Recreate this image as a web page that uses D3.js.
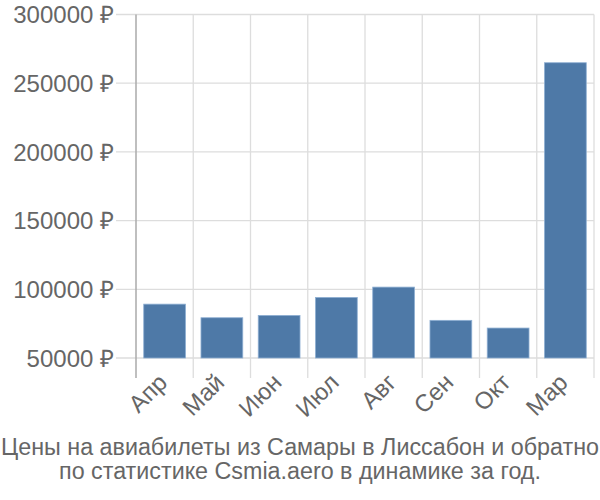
<!DOCTYPE html>
<html><head><meta charset="utf-8">
<script src="https://cdn.jsdelivr.net/npm/d3@7"></script>
<style>body{margin:0;background:#fff}svg{display:block}text{font-family:"Liberation Sans",Arial,sans-serif;fill:#666}</style>
</head><body>
<script>
const categories = ["Апр","Май","Июн","Июл","Авг","Сен","Окт","Мар"];
const values = [89200, 79300, 81000, 94100, 101600, 77400, 71800, 264900];
const yTicks = [50000, 100000, 150000, 200000, 250000, 300000];
const titleLines = ["Цены на авиабилеты из Самары в Лиссабон и обратно","по статистике Csmia.aero в динамике за год."];

const W=600,H=500, L=136, R=594, T=14.5, B=358;
const svg=d3.select("body").append("svg").attr("width",W).attr("height",H);
const x=d3.scaleBand().domain(categories).range([L,R]).paddingInner(0.27).paddingOuter(0.135);
const xg=d3.scaleBand().domain(categories).range([L,R]);
const y=d3.scaleLinear().domain([50000,300000]).range([B,T]);

// horizontal grid
svg.append("g").selectAll("line").data(yTicks).join("line")
 .attr("x1",L-20).attr("x2",R).attr("y1",d=>y(d)).attr("y2",d=>y(d))
 .attr("stroke","#ddd").attr("stroke-width",1.3);
// vertical grid
svg.append("g").selectAll("line").data(categories.slice(1).concat(["__end"])).join("line")
 .attr("x1",(d,i)=>i<categories.length-1?xg(d):R).attr("x2",(d,i)=>i<categories.length-1?xg(d):R)
 .attr("y1",T).attr("y2",B+20).attr("stroke","#ddd").attr("stroke-width",1.3);
// left axis
svg.append("line").attr("x1",L).attr("x2",L).attr("y1",T).attr("y2",B+20).attr("stroke","#aaa").attr("stroke-width",1.5);

// bars
svg.append("g").selectAll("rect").data(values).join("rect")
 .attr("x",(d,i)=>x(categories[i])).attr("width",x.bandwidth())
 .attr("y",d=>y(d)).attr("height",d=>B-y(d))
 .attr("fill","#4e79a7").attr("stroke","#8fb0d3").attr("stroke-width",0.8);

// y labels
svg.append("g").selectAll("text").data(yTicks).join("text")
 .attr("x",L-22).attr("y",d=>y(d)).attr("dy","0.36em").attr("text-anchor","end")
 .style("font-size","24px").text(d=>d+" ₽");

// x labels
svg.append("g").selectAll("text").data(categories).join("text")
 .attr("transform",d=>`translate(${xg(d)+xg.bandwidth()/2-2},${B+20}) rotate(-45)`)
 .attr("text-anchor","end").attr("dy","0.35em")
 .style("font-size","24px").text(d=>d);

// title
svg.append("g").selectAll("text").data(titleLines).join("text")
 .attr("x",300).attr("y",(d,i)=>455+i*24).attr("text-anchor","middle")
 .style("font-size","23.3px").text(d=>d);
</script>
</body></html>
